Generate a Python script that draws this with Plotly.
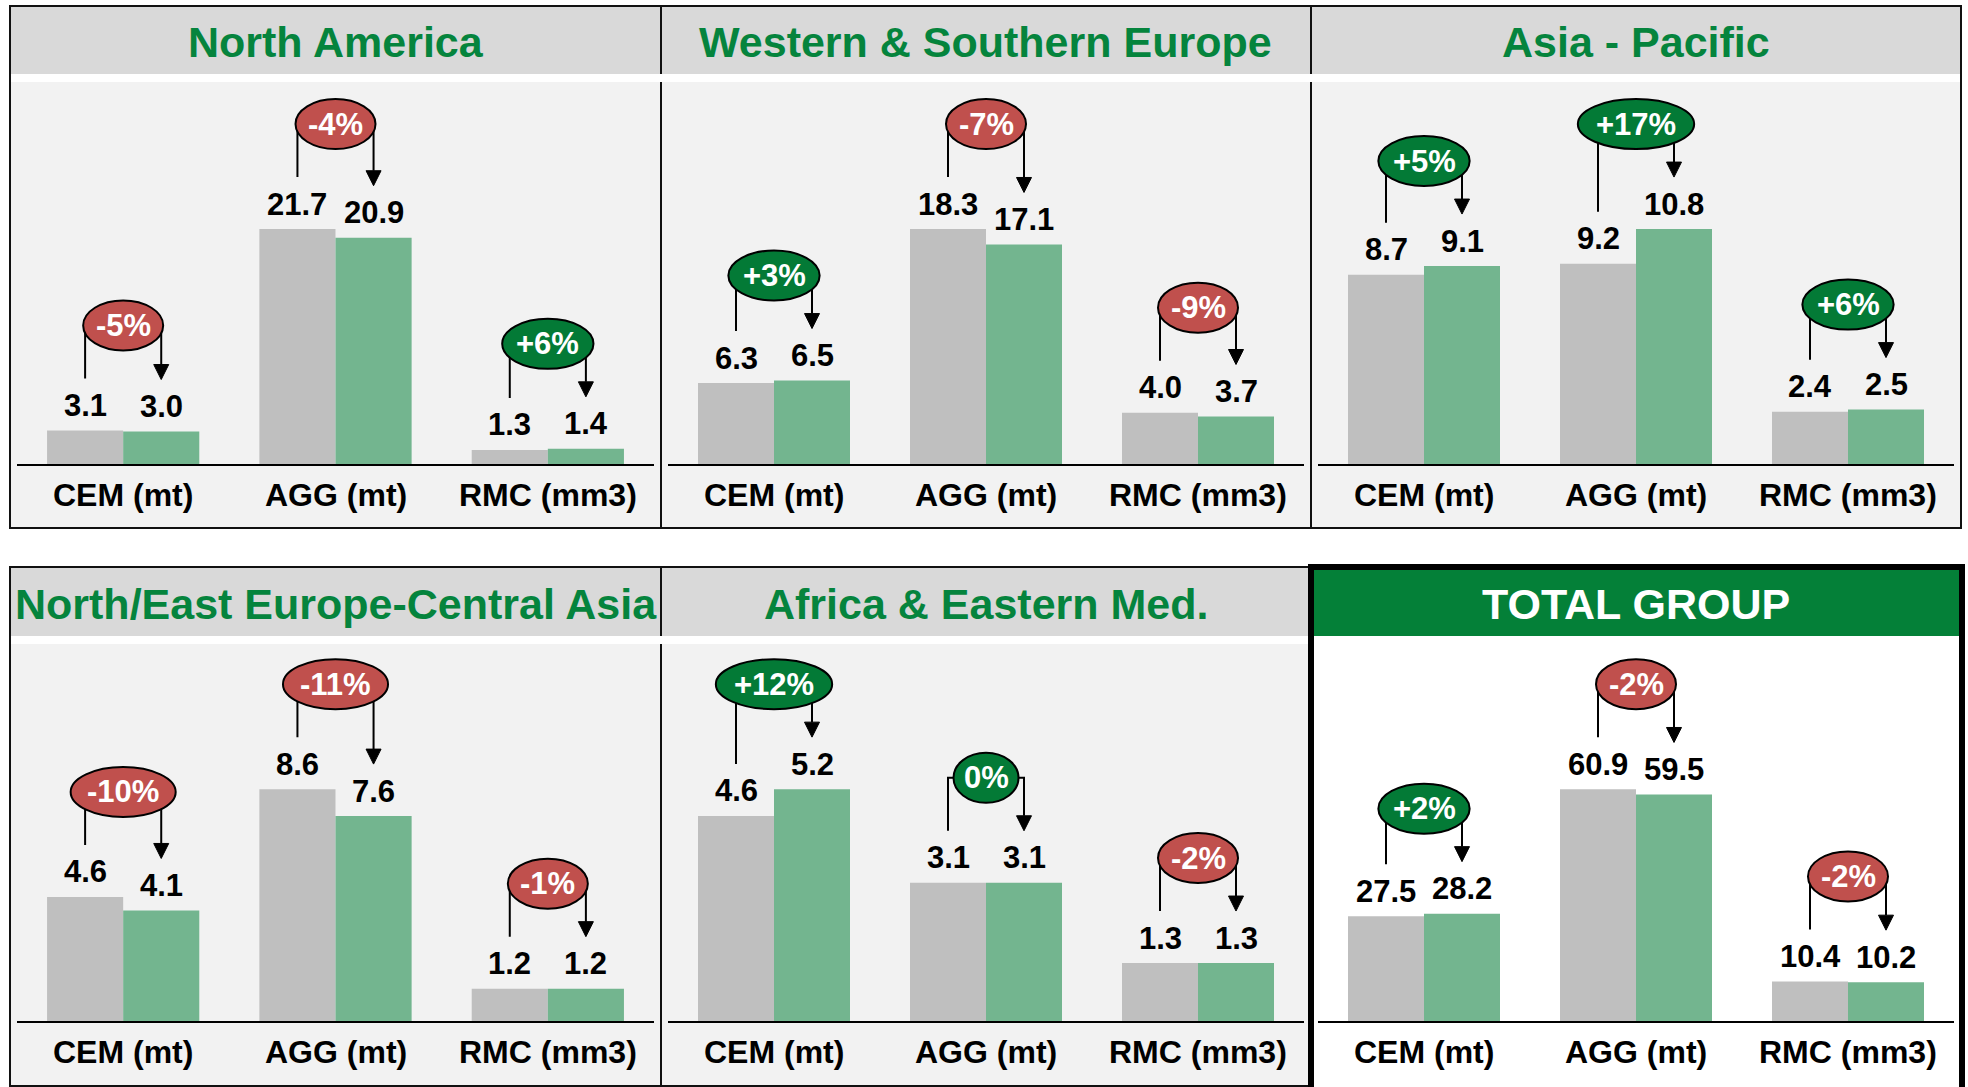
import plotly.graph_objects as go

# ---------------- data ----------------
categories = ["CEM (mt)", "AGG (mt)", "RMC (mm3)"]

region_names = ["North America", "Western & Southern Europe", "Asia - Pacific",
                "North/East Europe-Central Asia", "Africa & Eastern Med.", "TOTAL GROUP"]

na_prior = [3.1, 21.7, 1.3]
na_current = [3.0, 20.9, 1.4]
na_change = ["-5%", "-4%", "+6%"]

wse_prior = [6.3, 18.3, 4.0]
wse_current = [6.5, 17.1, 3.7]
wse_change = ["+3%", "-7%", "-9%"]

ap_prior = [8.7, 9.2, 2.4]
ap_current = [9.1, 10.8, 2.5]
ap_change = ["+5%", "+17%", "+6%"]

neeca_prior = [4.6, 8.6, 1.2]
neeca_current = [4.1, 7.6, 1.2]
neeca_change = ["-10%", "-11%", "-1%"]

aem_prior = [4.6, 3.1, 1.3]
aem_current = [5.2, 3.1, 1.3]
aem_change = ["+12%", "0%", "-2%"]

total_prior = [27.5, 60.9, 10.4]
total_current = [28.2, 59.5, 10.2]
total_change = ["+2%", "-2%", "-2%"]

panel_prior = [na_prior, wse_prior, ap_prior, neeca_prior, aem_prior, total_prior]
panel_current = [na_current, wse_current, ap_current, neeca_current, aem_current, total_current]
panel_change = [na_change, wse_change, ap_change, neeca_change, aem_change, total_change]

# ---------------- style / geometry ----------------
W, H = 1968, 1087
FONT = "Liberation Sans, Arial, sans-serif"
C_PRIOR = "#BFBFBF"
C_CUR = "#73B58F"
C_TITLE = "#05843D"
C_HEAD = "#D9D9D9"
C_BG = "#F2F2F2"
C_TOTAL = "#048038"
C_POS = "#037A36"
C_NEG = "#C0504D"

col_edges = [(10, 661), (661, 1311), (1311, 1961)]
row_geom = [
    dict(box_top=6, box_bot=528, head_bot=74, plot_top=82, axis=464, label_y=495),
    dict(box_top=567, box_bot=1086, head_bot=636, plot_top=644, axis=1021, label_y=1052),
]
BARGAP = 0.283
HALF = (1 - BARGAP) / 4.0
FILL_RATIO = 0.615
VAL_SIZE = 31
BADGE_SIZE = 31

CW = {"+": 0.584, "-": 0.333, "%": 0.889}


def text_w(s, size):
    return sum(CW.get(ch, 0.556) for ch in s) * size


def px(x):
    return x / W


def py(y):
    return 1 - y / H


fig = go.Figure()
shapes = []
annotations = []
layout_axes = {}

for k in range(6):
    r, c = divmod(k, 3)
    L, R = col_edges[c]
    g = row_geom[r]
    is_total = (k == 5)
    xa = "x" if k == 0 else f"x{k + 1}"
    ya = "y" if k == 0 else f"y{k + 1}"

    prior = panel_prior[k]
    cur = panel_current[k]
    chg = panel_change[k]

    pl, pr = L + 7, R - 7
    pw = pr - pl
    ph = g["axis"] - g["plot_top"]
    ymax = max(prior + cur) / FILL_RATIO
    ppu = ph / ymax
    ppx = pw / 3.0

    idx = list(range(len(categories)))
    fig.add_trace(go.Bar(x=idx, y=prior, marker=dict(color=C_PRIOR, line=dict(width=0)),
                         xaxis=xa, yaxis=ya, showlegend=False, hoverinfo="skip"))
    fig.add_trace(go.Bar(x=idx, y=cur, marker=dict(color=C_CUR, line=dict(width=0)),
                         xaxis=xa, yaxis=ya, showlegend=False, hoverinfo="skip"))

    layout_axes["xaxis" if k == 0 else f"xaxis{k + 1}"] = dict(
        domain=[px(pl), px(pr)], range=[-0.5, 2.5], anchor=ya,
        showline=True, linecolor="black", linewidth=2, showgrid=False,
        zeroline=False, showticklabels=False, ticks="", fixedrange=True)
    layout_axes["yaxis" if k == 0 else f"yaxis{k + 1}"] = dict(
        domain=[py(g["axis"]), py(g["plot_top"])], range=[0, ymax], anchor=xa,
        visible=False, fixedrange=True)

    shapes.append(dict(type="rect", xref="paper", yref="paper", layer="below",
                       x0=px(L), x1=px(R), y0=py(g["box_bot"]), y1=py(g["head_bot"]),
                       fillcolor="white" if is_total else C_BG, line=dict(width=0)))
    shapes.append(dict(type="rect", xref="paper", yref="paper", layer="below",
                       x0=px(L), x1=px(R), y0=py(g["head_bot"]), y1=py(g["box_top"]),
                       fillcolor=C_TOTAL if is_total else C_HEAD, line=dict(width=0)))

    annotations.append(dict(xref="paper", yref="paper", x=px((L + R) / 2),
                            y=py((g["box_top"] + g["head_bot"]) / 2 + 2),
                            text=f"<b>{region_names[k]}</b>", showarrow=False,
                            xanchor="center", yanchor="middle",
                            font=dict(family=FONT, size=43,
                                      color="white" if is_total else C_TITLE)))

    for i in idx:
        xl, xr = i - HALF, i + HALF
        annotations.append(dict(xref=xa, yref="paper", x=i, y=py(g["label_y"]),
                                text=f"<b>{categories[i]}</b>", showarrow=False,
                                xanchor="center", yanchor="middle",
                                font=dict(family=FONT, size=32, color="black")))
        for xv, v in ((xl, prior[i]), (xr, cur[i])):
            annotations.append(dict(xref=xa, yref=ya, x=xv, y=v + 25 / ppu,
                                    text=f"<b>{v:.1f}</b>", showarrow=False,
                                    xanchor="center", yanchor="middle",
                                    font=dict(family=FONT, size=VAL_SIZE, color="black")))
        y_left = prior[i] + 52 / ppu
        y_tip = cur[i] + 52 / ppu
        y_base = y_tip + 15 / ppu
        y_c = max(prior[i], cur[i]) + 105 / ppu
        shapes.append(dict(type="path", xref=xa, yref=ya, layer="above",
                           path=f"M {xl},{y_left} L {xl},{y_c} L {xr},{y_c} L {xr},{y_base}",
                           line=dict(color="black", width=2)))
        hw = 7.5 / ppx
        shapes.append(dict(type="path", xref=xa, yref=ya, layer="above",
                           path=f"M {xr - hw},{y_base} L {xr + hw},{y_base} L {xr},{y_tip} Z",
                           fillcolor="black", line=dict(color="black", width=1)))
        ew = 1.5 * text_w(chg[i], 30)
        neg = chg[i].startswith("-")
        shapes.append(dict(type="circle", xref=xa, yref=ya, layer="above",
                           x0=i - ew / 2 / ppx, x1=i + ew / 2 / ppx,
                           y0=y_c - 25 / ppu, y1=y_c + 25 / ppu,
                           fillcolor=C_NEG if neg else C_POS,
                           line=dict(color="black", width=2)))
        annotations.append(dict(xref=xa, yref=ya, x=i, y=y_c,
                                text=f"<b>{chg[i]}</b>", showarrow=False,
                                xanchor="center", yanchor="middle",
                                font=dict(family=FONT, size=BADGE_SIZE, color="white")))

# thin panel borders
for k in range(5):
    r, c = divmod(k, 3)
    L, R = col_edges[c]
    g = row_geom[r]
    shapes.append(dict(type="rect", xref="paper", yref="paper", layer="above",
                       x0=px(L), x1=px(R), y0=py(g["box_bot"]), y1=py(g["box_top"]),
                       fillcolor="rgba(0,0,0,0)", line=dict(color="#111111", width=2)))

# white strips under the headers (break the inner dividers, keep outer borders)
strip_spans = [(col_edges[0][0] + 1, col_edges[2][1] - 1),
               (col_edges[0][0] + 1, col_edges[2][0] - 3)]
for r, (sx0, sx1) in enumerate(strip_spans):
    g = row_geom[r]
    shapes.append(dict(type="rect", xref="paper", yref="paper", layer="above",
                       x0=px(sx0), x1=px(sx1), y0=py(g["plot_top"]), y1=py(g["head_bot"]),
                       fillcolor="white", line=dict(width=0)))
L, R = col_edges[2]
g = row_geom[1]
shapes.append(dict(type="rect", xref="paper", yref="paper", layer="above",
                   x0=px(L + 3), x1=px(R - 3), y0=py(g["plot_top"]), y1=py(g["head_bot"]),
                   fillcolor="white", line=dict(width=0)))

# thick TOTAL GROUP border
shapes.append(dict(type="rect", xref="paper", yref="paper", layer="above",
                   x0=px(L), x1=px(R + 1), y0=py(g["box_bot"] + 4), y1=py(g["box_top"]),
                   fillcolor="rgba(0,0,0,0)", line=dict(color="black", width=6)))

fig.update_layout(
    width=W, height=H, margin=dict(l=0, r=0, t=0, b=0),
    paper_bgcolor="white", plot_bgcolor="rgba(0,0,0,0)",
    barmode="group", bargap=BARGAP, bargroupgap=0,
    showlegend=False, shapes=shapes, annotations=annotations,
    **layout_axes,
)

fig.write_html(
    "out.html",
    config={"displayModeBar": False},
    post_script="document.body.style.margin='0';document.body.style.overflow='hidden';",
)
